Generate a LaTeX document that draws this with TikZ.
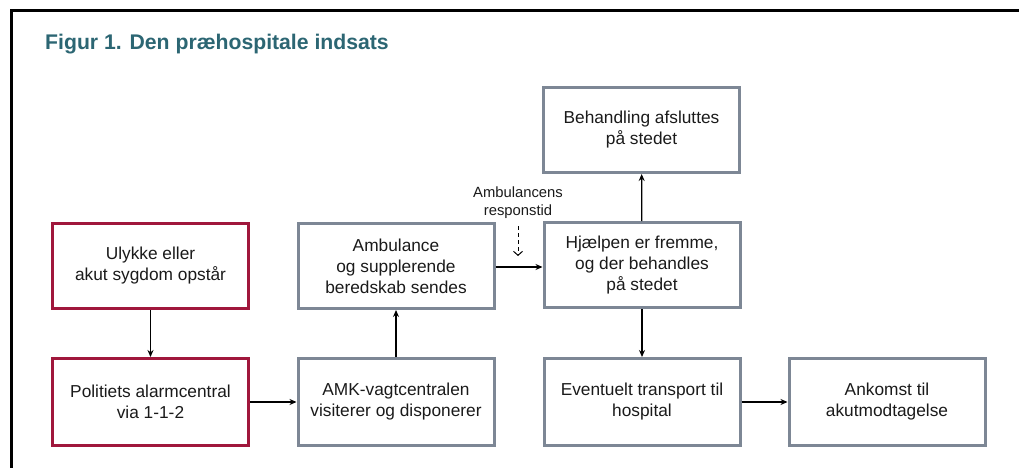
\documentclass[tikz,border=0pt]{standalone}
\usepackage{fontspec}
\setmainfont{Liberation Sans}
\usetikzlibrary{arrows.meta}
\definecolor{titleteal}{HTML}{2C6673}
\definecolor{boxred}{HTML}{A0173C}
\definecolor{boxgray}{HTML}{7D8795}
\definecolor{txt}{HTML}{1A1A1A}
\tikzset{
  basebox/.style={draw, line width=3pt, minimum width=196pt, align=center,
    text=txt, font=\fontsize{17.3}{21}\selectfont, inner sep=0pt},
  redbox/.style={basebox, draw=boxred, minimum height=85pt},
  graybox/.style={basebox, draw=boxgray, minimum height=85pt},
  graylow/.style={basebox, draw=boxgray, minimum height=87pt},
  redlow/.style={basebox, draw=boxred, minimum height=87pt},
  flow/.style={line width=1.2pt, -{Stealth[length=7pt,width=6pt]}},
  dashflow/.style={line width=1pt, dash pattern=on 4pt off 3pt, -{Straight Barb[length=4pt,width=9pt]}},
  frameline/.style={line width=3pt, black},
}
\begin{document}
\begin{tikzpicture}[x=1pt,y=-1pt]
\useasboundingbox (0,0) rectangle (1019,468);
\draw[frameline] (11.5,470) -- (11.5,10.7) -- (1022,10.7);
\node[anchor=base west, inner sep=0pt, text=titleteal, font=\fontsize{21.2}{25}\selectfont\bfseries] (title) at (45,50) {Figur 1. Den præhospitale indsats};

\node[redbox] (ulykke) at (150.5,266) {Ulykke eller\\akut sygdom opstår};
\node[redlow] (politi) at (150.5,402) {Politiets alarmcentral\\via 1-1-2};
\node[graylow] (amk) at (396,402) {AMK-vagtcentralen\\visiterer og disponerer};
\node[graybox] (amb) at (396,266) {Ambulance\\og supplerende\\beredskab sendes};
\node[graybox] (hjaelp) at (642,265) {Hjælpen er fremme,\\og der behandles\\på stedet};
\node[graybox] (behand) at (641.5,130) {Behandling afsluttes\\på stedet};
\node[graylow] (trans) at (642,402) {Eventuelt transport til\\hospital};
\node[graylow] (ankomst) at (887,402) {Ankomst til\\akutmodtagelse};

\node[align=center, text=txt, font=\fontsize{14.8}{18}\selectfont, inner sep=1pt] (resp) at (518,203) {Ambulancens\\responstid};
\coordinate (respend) at (518,256);

\draw[flow] (ulykke) -- (politi);
\draw[flow] (politi) -- (amk);
\draw[flow] (amk) -- (amb);
\draw[flow] (amb.east |- 0,267) -- (hjaelp.west |- 0,267);
\draw[flow] (hjaelp) -- (behand);
\draw[flow] (hjaelp) -- (trans);
\draw[flow] (trans) -- (ankomst);
\draw[dashflow] ([yshift=-6pt]resp.south) -- (respend);
\end{tikzpicture}
\end{document}
